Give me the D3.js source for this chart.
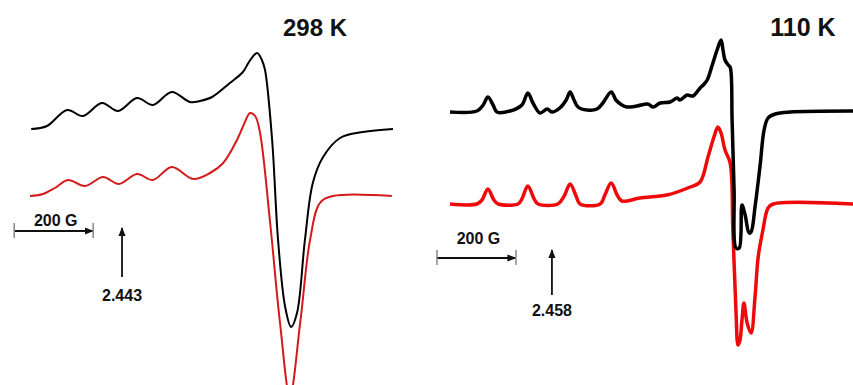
<!DOCTYPE html>
<html>
<head>
<meta charset="utf-8">
<script src="https://cdn.jsdelivr.net/npm/d3@7/dist/d3.min.js"></script>
<style>
  html, body { margin: 0; padding: 0; background: #fff; }
  svg { display: block; }
  text { font-family: "Liberation Sans", Arial, sans-serif; font-weight: bold; fill: #111; }
</style>
</head>
<body>
<svg id="chart" width="853" height="385"></svg>
<script>
// ---- Data (field in G relative to sweep start, intensity in arb. units) ----
const panelTitles = ["298 K", "110 K"];
const gLabels = ["2.443", "2.458"];
const scaleBarLabel = "200 G";
const scaleBarG = 200;

// 298 K experimental (black)
const exp298 = [[3,0],[43,3],[94,19],[134,13],[182,26],[223,18],[271,31],[311,24],[359,37],[405,27],[430,28],[461,32],[506,46],[539,57],[556,68],[575,76],[587,69],[595,59],[613,-11],[628,-111],[646,-178],[661,-198],[676,-184],[696,-111],[716,-54],[742,-28],[785,-9],[843,-3],[919,0]];
// 298 K simulated (red)
const sim298 = [[0,0],[33,2],[63,8],[96,16],[139,10],[185,19],[225,12],[271,22],[311,16],[359,29],[413,17],[456,23],[489,33],[524,56],[542,72],[557,83],[570,80],[582,64],[608,-27],[633,-127],[658,-200],[684,-127],[709,-44],[734,-7],[767,0],[916,0]];

// 110 K experimental (black)
const exp110 = [[0,0],[68,1],[84,7],[96,15],[109,7],[119,0],[152,1],[182,7],[197,19],[210,9],[228,-1],[246,3],[258,0],[278,4],[294,12],[304,20],[314,12],[324,5],[347,2],[372,3],[387,9],[408,20],[420,12],[435,7],[448,5],[473,6],[501,8],[514,5],[532,9],[557,10],[575,14],[582,12],[600,17],[615,16],[633,24],[641,27],[651,32],[663,46],[676,62],[686,72],[691,62],[696,52],[704,47],[709,45],[714,-8],[719,-78],[724,-136],[732,-136],[739,-93],[747,-103],[757,-121],[762,-120],[772,-95],[785,-53],[795,-18],[805,-6],[823,-2],[861,0],[1020,1]];
// 110 K simulated (red)
const sim110 = [[0,0],[68,0],[81,4],[96,15],[111,4],[122,0],[172,0],[182,5],[197,18],[213,5],[223,0],[273,0],[289,8],[304,20],[319,8],[329,0],[380,0],[392,9],[408,21],[423,9],[435,3],[481,6],[549,9],[608,17],[633,22],[653,47],[668,67],[678,77],[686,71],[696,54],[709,41],[716,-26],[724,-109],[729,-141],[734,-136],[739,-116],[744,-99],[752,-119],[762,-129],[772,-93],[780,-53],[792,-26],[805,-4],[818,0],[1020,0]];

// scale bar start field and g-marker field for each panel
const scaleBarStart = [-40, -33];
const gMarkerField = [233, 258];

// ---- Layout ----
const svg = d3.select("#chart");
const panels = [
  { x: d3.scaleLinear().domain([0, 919]).range([30, 393]),
    y: d3.scaleLinear().domain([0, 100]).range([129, 29]),
    exp: exp298, sim: sim298, simOffset: -67,
    expW: 2, simW: 2, simColor: "#d41a1a",
    titleX: 315, titleY: 36, titleSize: 24,
    barY: 231, barTextY: 226, barSize: 16, arrowTop: 228, arrowBot: 277, gTextY: 301, gSize: 16 },
  { x: d3.scaleLinear().domain([0, 1020]).range([450, 853]),
    y: d3.scaleLinear().domain([0, 100]).range([112, 12]),
    exp: exp110, sim: sim110, simOffset: -92,
    expW: 3.5, simW: 3.5, simColor: "#ee0a0a",
    titleX: 803, titleY: 36, titleSize: 25,
    barY: 258, barTextY: 244, barSize: 16, arrowTop: 250, arrowBot: 295, gTextY: 316, gSize: 16 }
];

const defs = svg.append("defs");
defs.append("marker").attr("id", "ah").attr("viewBox", "0 0 10 10")
  .attr("refX", 9).attr("refY", 5).attr("markerWidth", 5).attr("markerHeight", 5)
  .attr("orient", "auto").attr("markerUnits", "strokeWidth")
  .append("path").attr("d", "M0,1 L10,5 L0,9 Z").attr("fill", "#111");

panels.forEach((p, i) => {
  const g = svg.append("g");
  const curve = d3.curveCatmullRom.alpha(0.5);
  const lineExp = d3.line().x(d => p.x(d[0])).y(d => p.y(d[1])).curve(curve);
  const lineSim = d3.line().x(d => p.x(d[0])).y(d => p.y(d[1] + p.simOffset)).curve(curve);

  g.append("path").datum(p.sim).attr("d", lineSim)
    .attr("fill", "none").attr("stroke", p.simColor).attr("stroke-width", p.simW)
    .attr("stroke-linejoin", "round");
  g.append("path").datum(p.exp).attr("d", lineExp)
    .attr("fill", "none").attr("stroke", "#000").attr("stroke-width", p.expW)
    .attr("stroke-linejoin", "round");

  // title
  g.append("text").attr("x", p.titleX).attr("y", p.titleY)
    .attr("text-anchor", "middle").attr("font-size", p.titleSize).text(panelTitles[i]);

  // scale bar
  const x0 = p.x(scaleBarStart[i]), x1 = p.x(scaleBarStart[i] + scaleBarG);
  g.append("line").attr("x1", x0).attr("x2", x1 - 0.5).attr("y1", p.barY).attr("y2", p.barY)
    .attr("stroke", "#111").attr("stroke-width", 1.8).attr("marker-end", "url(#ah)");
  [x0, x1].forEach(xx => {
    g.append("line").attr("x1", xx).attr("x2", xx)
      .attr("y1", p.barY - 8).attr("y2", p.barY + 7)
      .attr("stroke", "#888").attr("stroke-width", 1.5);
  });
  g.append("text").attr("x", (x0 + x1) / 2 + 2).attr("y", p.barTextY)
    .attr("text-anchor", "middle").attr("font-size", p.barSize).text(scaleBarLabel);

  // g-value marker
  const xa = p.x(gMarkerField[i]);
  g.append("line").attr("x1", xa).attr("x2", xa).attr("y1", p.arrowBot).attr("y2", p.arrowTop)
    .attr("stroke", "#111").attr("stroke-width", 1.8).attr("marker-end", "url(#ah)");
  g.append("text").attr("x", xa).attr("y", p.gTextY)
    .attr("text-anchor", "middle").attr("font-size", p.gSize).text(gLabels[i]);
});
</script>
</body>
</html>
